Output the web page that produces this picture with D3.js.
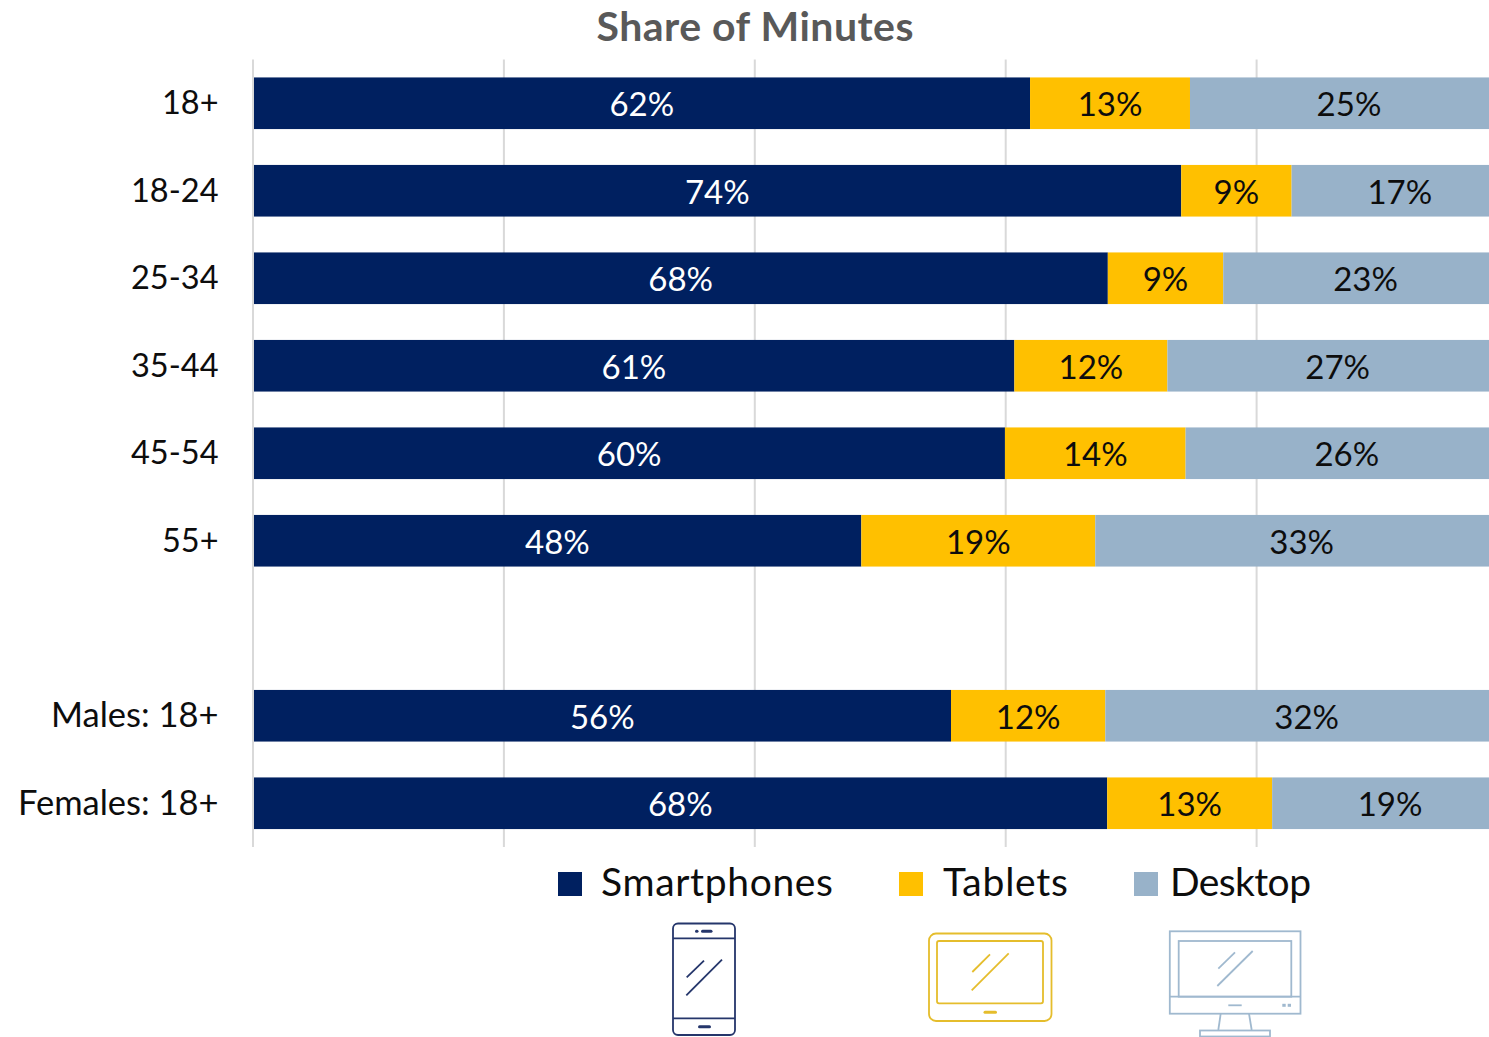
<!DOCTYPE html>
<html>
<head>
<meta charset="utf-8">
<title>Share of Minutes</title>
<script src="https://d3js.org/d3.v7.min.js"></script>
<style>
  html, body { margin: 0; padding: 0; background: #fff; }
  svg { display: block; }
  text { font-family: Lato, "Open Sans", sans-serif; }
</style>
</head>
<body>
<div id="chart"></div>
<script>
// Chart values ("" is the empty row between the age groups and gender)
var categories = ["18+", "18-24", "25-34", "35-44", "45-54", "55+", "", "Males: 18+", "Females: 18+"];
var smartphones = [61.9, 73.95, 68.1, 60.65, 59.9, 48.45, null, 55.6, 68.05];
var tablets = [12.75, 8.8, 9.2, 12.2, 14.4, 18.65, null, 12.3, 13.15];
var desktop = [25.35, 17.25, 22.7, 27.15, 25.7, 32.9, null, 32.1, 18.8];
var seriesNames = ["Smartphones", "Tablets", "Desktop"];
var seriesColors = ["#002060", "#FFC000", "#98B2C9"];
var xTicks = [0, 20, 40, 60, 80, 100];

var svgWidth = 1489;
var svgHeight = 1037;

var margin = { top: 59.5, right: -19, bottom: 190, left: 253.5 };
var width = svgWidth - margin.left - margin.right;
var height = svgHeight - margin.top - margin.bottom;

var svg = d3.select("#chart")
  .append("svg")
  .attr("width", svgWidth)
  .attr("height", svgHeight);

var chartGroup = svg.append("g")
  .attr("transform", `translate(${margin.left}, ${margin.top})`);

var xScale = d3.scaleLinear().domain([0, 100]).range([0, width]);

var yScale = d3.scaleBand()
  .domain(categories)
  .range([0, height])
  .paddingInner(0.41)
  .paddingOuter(0.205);

// gridlines
var xAxis = d3.axisBottom(xScale)
  .tickValues(xTicks)
  .tickSize(-height)
  .offset(-0.5)
  .tickFormat("");

var gridGroup = chartGroup.append("g")
  .attr("transform", `translate(0, ${height})`)
  .call(xAxis);
gridGroup.select(".domain").remove();
gridGroup.selectAll("line")
  .attr("stroke", "#d9d9d9")
  .attr("stroke-width", 2);

// category labels
var yAxis = d3.axisLeft(yScale).tickSize(0).tickPadding(35);
var yGroup = chartGroup.append("g").call(yAxis);
yGroup.select(".domain").remove();
yGroup.selectAll("text")
  .attr("font-size", d => d.length > 6 ? 34.5 : 32.5)
  .attr("y", 0.5)
  .attr("fill", "#0d0d0d")
  .style("font-family", "Lato, 'Open Sans', sans-serif");

// stacked bars
var rows = categories.map(function(c, i) {
  return { category: c, Smartphones: smartphones[i], Tablets: tablets[i], Desktop: desktop[i] };
}).filter(d => d.category !== "");

var stack = d3.stack().keys(seriesNames);
var layers = stack(rows);

layers.forEach(function(layer, i) {
  var layerGroup = chartGroup.append("g");

  layerGroup.selectAll("rect")
    .data(layer)
    .enter()
    .append("rect")
    .attr("x", d => xScale(d[0]) + (i === 0 ? 0.5 : 0))
    .attr("y", d => yScale(d.data.category))
    .attr("width", d => xScale(d[1]) - xScale(d[0]) - (i === 0 ? 0.5 : 0))
    .attr("height", yScale.bandwidth())
    .attr("fill", seriesColors[i]);

  layerGroup.selectAll("text")
    .data(layer)
    .enter()
    .append("text")
    .attr("x", d => xScale((d[0] + d[1]) / 2))
    .attr("y", d => yScale(d.data.category) + yScale.bandwidth() / 2 + 1.5)
    .attr("dy", "0.35em")
    .attr("text-anchor", "middle")
    .attr("font-size", 33)
    .attr("fill", i === 0 ? "#ffffff" : "#0d0d0d")
    .text(d => Math.round(d[1] - d[0]) + "%");
});

// title
svg.append("text")
  .attr("x", 755)
  .attr("y", 41)
  .attr("text-anchor", "middle")
  .attr("font-size", 41)
  .attr("font-weight", 700)
  .attr("textLength", 317)
  .attr("fill", "#595959")
  .text("Share of Minutes");

// legend
var legendSwatchX = [558, 899, 1134];
var legendTextX = [601, 943, 1170];
var legendTextWidth = [232, 125, 141];

seriesNames.forEach(function(name, i) {
  svg.append("rect")
    .attr("x", legendSwatchX[i])
    .attr("y", 872)
    .attr("width", 24)
    .attr("height", 24)
    .attr("fill", seriesColors[i]);

  svg.append("text")
    .attr("x", legendTextX[i])
    .attr("y", 896)
    .attr("font-size", 39)
    .attr("textLength", legendTextWidth[i])
    .attr("fill", "#0d0d0d")
    .text(name);
});

// device icons under the legend
function addRect(g, x, y, w, h, r) {
  return g.append("rect").attr("x", x).attr("y", y).attr("width", w).attr("height", h).attr("rx", r);
}
function addLine(g, x1, y1, x2, y2) {
  return g.append("line").attr("x1", x1).attr("y1", y1).attr("x2", x2).attr("y2", y2);
}
function addPill(g, x1, x2, y) {
  return addLine(g, x1, y, x2, y).attr("stroke-width", 3).attr("stroke-linecap", "round");
}
function addIcon(color) {
  return svg.append("g")
    .attr("fill", "none")
    .attr("stroke", color)
    .attr("stroke-width", 1.8);
}

// phone
var phone = addIcon("#25366b");
addRect(phone, 673, 923.5, 62, 111.5, 5);
addLine(phone, 673, 938.3, 735, 938.3);
addLine(phone, 673, 1018.3, 735, 1018.3);
addPill(phone, 702.5, 711, 931.3);
addPill(phone, 696.5, 697, 931.3);
addPill(phone, 699.5, 709.5, 1026.7);
addLine(phone, 686.7, 977.3, 704, 960.7);
addLine(phone, 686.3, 995.3, 722, 959.7);

// tablet
var tablet = addIcon("#e5bd2c");
addRect(tablet, 929, 933.5, 122.5, 87.5, 7);
addRect(tablet, 937, 941, 106, 62.3, 2);
addLine(tablet, 972.3, 972, 990, 954.3);
addLine(tablet, 971.7, 990.3, 1008.7, 953.3);
addPill(tablet, 985, 995.5, 1012.3);

// desktop
var monitor = addIcon("#a0b9cf");
addRect(monitor, 1169.8, 931.3, 130.7, 82.4, 0);
addRect(monitor, 1178.7, 941, 112.6, 55.7, 0);
addLine(monitor, 1169.8, 996.7, 1300.5, 996.7);
addLine(monitor, 1218.3, 968.7, 1235, 952.3);
addLine(monitor, 1217.3, 986, 1252.7, 951);
addLine(monitor, 1228.3, 1005.3, 1241.7, 1005.3);
addLine(monitor, 1282.3, 1005.3, 1285.7, 1005.3).attr("stroke-width", 3);
addLine(monitor, 1287.7, 1005.3, 1291, 1005.3).attr("stroke-width", 3);
addLine(monitor, 1220.7, 1013.7, 1218.3, 1030);
addLine(monitor, 1249, 1013.7, 1251.7, 1030);
addRect(monitor, 1200, 1030.5, 70, 6, 0);
</script>
</body>
</html>
